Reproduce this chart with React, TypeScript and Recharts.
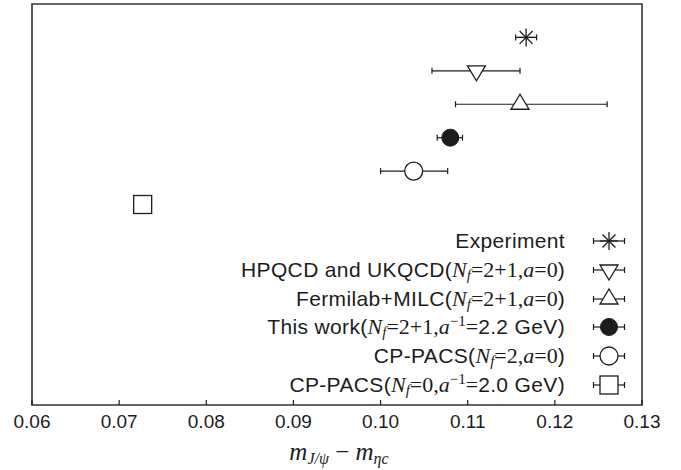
import React from 'react';
import { ScatterChart, Scatter, XAxis, YAxis, ErrorBar, ReferenceArea, Legend } from 'recharts';

const INK = '#1c1c1c';
const SANS = '"Liberation Sans", Arial, sans-serif';
const SERIF = '"Liberation Serif", "Times New Roman", serif';

// mass splitting (GeV), one row per result
const VALUES = [0.1167, 0.111, 0.116, 0.108, 0.1038, 0.0727];
const ERR_LO = [0.0012, 0.0051, 0.0074, 0.0015, 0.0038, 0.0005];
const ERR_HI = [0.0012, 0.0050, 0.0100, 0.0014, 0.0039, 0.0005];
const ROWS = [11, 10, 9, 8, 7, 6];
const MARKERS = ['star', 'down', 'up', 'dot', 'circle', 'square'];
const X_TICKS = [0.06, 0.07, 0.08, 0.09, 0.1, 0.11, 0.12, 0.13];

// legend text pieces: t = sans, i = serif italic, s = subscript, m = serif, p = superscript
type Seg = [string, string];
const LABELS: Seg[][] = [
  [['t', 'Experiment']],
  [['t', 'HPQCD and UKQCD('], ['i', 'N'], ['s', 'f'], ['m', '=2+1,'], ['i', 'a'], ['m', '=0'], ['t', ')']],
  [['t', 'Fermilab+MILC('], ['i', 'N'], ['s', 'f'], ['m', '=2+1,'], ['i', 'a'], ['m', '=0'], ['t', ')']],
  [['t', 'This work('], ['i', 'N'], ['s', 'f'], ['m', '=2+1,'], ['i', 'a'], ['p', '\u22121'], ['m', '='], ['t', '2.2 GeV)']],
  [['t', 'CP-PACS('], ['i', 'N'], ['s', 'f'], ['m', '=2,'], ['i', 'a'], ['m', '=0'], ['t', ')']],
  [['t', 'CP-PACS('], ['i', 'N'], ['s', 'f'], ['m', '=0,'], ['i', 'a'], ['p', '\u22121'], ['m', '='], ['t', '2.0 GeV)']],
];

const data = VALUES.map((v, i) => ({ x: v, y: ROWS[i], err: [ERR_LO[i], ERR_HI[i]], kind: MARKERS[i] }));

function Marker({ kind, cx, cy }: { kind: string; cx: number; cy: number }) {
  const sw = 1.3;
  if (kind === 'star') {
    const r = 9;
    const d = r * 0.72;
    return (
      <g stroke={INK} strokeWidth={sw}>
        <line x1={cx - r} y1={cy} x2={cx + r} y2={cy} />
        <line x1={cx} y1={cy - r} x2={cx} y2={cy + r} />
        <line x1={cx - d} y1={cy - d} x2={cx + d} y2={cy + d} />
        <line x1={cx - d} y1={cy + d} x2={cx + d} y2={cy - d} />
      </g>
    );
  }
  if (kind === 'down') {
    return <polygon points={`${cx - 9},${cy - 5} ${cx + 9},${cy - 5} ${cx},${cy + 10}`} fill="#fff" stroke={INK} strokeWidth={sw} />;
  }
  if (kind === 'up') {
    return <polygon points={`${cx - 9},${cy + 5} ${cx + 9},${cy + 5} ${cx},${cy - 10}`} fill="#fff" stroke={INK} strokeWidth={sw} />;
  }
  if (kind === 'dot') {
    return <circle cx={cx} cy={cy} r={8.5} fill={INK} stroke={INK} />;
  }
  if (kind === 'circle') {
    return <circle cx={cx} cy={cy} r={9} fill="#fff" stroke={INK} strokeWidth={sw} />;
  }
  return <rect x={cx - 9} y={cy - 9} width={18} height={18} fill="#fff" stroke={INK} strokeWidth={sw} />;
}

function LabelText({ segs }: { segs: Seg[] }) {
  return (
    <span style={{ whiteSpace: 'nowrap', fontFamily: SANS, fontSize: 21, color: INK }}>
      {segs.map(([k, txt], j) => {
        if (k === 'i') return <span key={j} style={{ fontFamily: SERIF, fontStyle: 'italic', fontSize: 22 }}>{txt}</span>;
        if (k === 'm') return <span key={j} style={{ fontFamily: SERIF, fontSize: 22 }}>{txt}</span>;
        if (k === 's')
          return (
            <span key={j} style={{ fontFamily: SERIF, fontStyle: 'italic', fontSize: 15, position: 'relative', top: 3 }}>
              {txt}
            </span>
          );
        if (k === 'p')
          return (
            <span key={j} style={{ fontFamily: SERIF, fontSize: 15, position: 'relative', top: -8 }}>
              {txt}
            </span>
          );
        return <span key={j} style={{ letterSpacing: 0.35 }}>{txt}</span>;
      })}
    </span>
  );
}

function LegendBox() {
  return (
    <div>
      {LABELS.map((segs, i) => (
        <div key={i} style={{ display: 'flex', justifyContent: 'flex-end', alignItems: 'center', height: 28.66 }}>
          <LabelText segs={segs} />
          <svg width={40} height={28} style={{ marginLeft: 24, flex: 'none' }}>
            <g stroke={INK} strokeWidth={1.2}>
              <line x1={4.5} y1={14} x2={35.5} y2={14} />
              <line x1={4.5} y1={11} x2={4.5} y2={17} />
              <line x1={35.5} y1={11} x2={35.5} y2={17} />
            </g>
            <Marker kind={MARKERS[i]} cx={20} cy={14} />
          </svg>
        </div>
      ))}
    </div>
  );
}

function AxisTitle(props: any) {
  const vb = props.viewBox || { x: 32, y: 405, width: 610, height: 50 };
  return (
    <text x={vb.x + vb.width / 2 + 2} y={vb.y + 55} textAnchor="middle" fontFamily={SERIF} fontStyle="italic" fontSize={25} fill={INK}>
      <tspan>m</tspan>
      <tspan fontSize={16} dy={4}>J/ψ</tspan>
      <tspan dy={-4} fontStyle="normal"> − </tspan>
      <tspan>m</tspan>
      <tspan fontSize={16} dy={4}>η</tspan>
      <tspan fontSize={16} dy={0}>c</tspan>
    </text>
  );
}

export default function App() {
  return (
    <div style={{ position: 'absolute', left: 0, top: 0, background: '#fff' }}>
      <ScatterChart width={681} height={470} margin={{ top: 4, right: 39, bottom: 15, left: 32 }}>
        <XAxis
          type="number"
          dataKey="x"
          domain={[0.06, 0.13]}
          ticks={X_TICKS}
          allowDataOverflow
          height={50}
          axisLine={false}
          tickLine={{ stroke: INK, strokeWidth: 1.2 }}
          tickSize={-5}
          tickMargin={15}
          tickFormatter={(v: number) => v.toFixed(2)}
          tick={{ fontFamily: SANS, fontSize: 19, fill: INK }}
          label={<AxisTitle />}
        />
        <XAxis
          xAxisId="top"
          orientation="top"
          type="number"
          domain={[0.06, 0.13]}
          ticks={X_TICKS}
          allowDataOverflow
          height={0}
          axisLine={false}
          tickLine={{ stroke: INK, strokeWidth: 1.2 }}
          tickSize={-5}
          tick={false}
        />
        <YAxis type="number" dataKey="y" domain={[0, 12]} hide />
        <ReferenceArea x1={0.06} x2={0.13} y1={0} y2={12} fill="none" stroke="#333" strokeWidth={1.6} ifOverflow="extendDomain" />
        <Scatter
          data={data}
          isAnimationActive={false}
          shape={(p: any) => <Marker kind={p.payload.kind} cx={p.cx} cy={p.cy} />}
        >
          <ErrorBar dataKey="err" direction="x" width={3} stroke={INK} strokeWidth={1.2} isAnimationActive={false} />
        </Scatter>
        <Legend
          layout="horizontal"
          verticalAlign="middle"
          align="center"
          content={() => <LegendBox />}
          wrapperStyle={{ left: 100, top: 227, width: 529 }}
        />
      </ScatterChart>
    </div>
  );
}
